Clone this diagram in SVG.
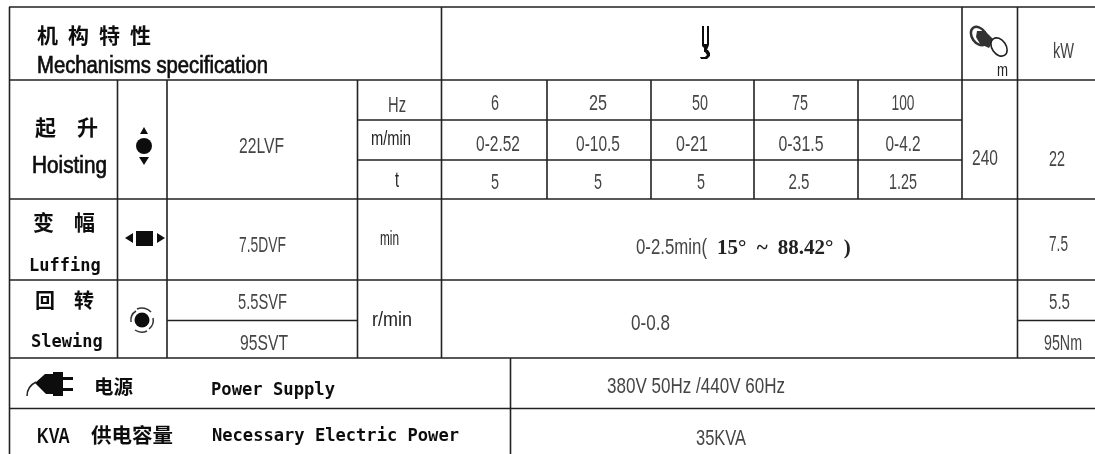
<svg xmlns="http://www.w3.org/2000/svg" width="1095" height="454" viewBox="0 0 1095 454">
<defs>
<filter id="soft" x="-10%" y="-30%" width="120%" height="160%"><feGaussianBlur stdDeviation="0.5"/></filter>
</defs>
<style>
.l{stroke:#222;stroke-width:1.6;fill:none}
text{fill:#444;font-family:"Liberation Sans",sans-serif;font-size:22px}
.t{filter:url(#soft)}
.b{fill:#111;font-family:"DejaVu Sans Mono",monospace;font-weight:bold;font-size:17px}
.h{fill:#111;stroke:#111;stroke-width:.7;font-family:"Liberation Sans",sans-serif;font-size:23px}
.c{fill:#111;font-family:"Noto Sans CJK SC","Liberation Sans",sans-serif;font-weight:bold;font-size:21px}
.u{fill:#222;font-size:20px}
.i{fill:#111}
</style>
<rect width="1095" height="454" fill="#fff"/>
<g id="grid" class="l">
<path d="M9.5 7V454M117.5 80V358M167 80V358M357.5 80V358M441.5 7V358M547 80V199M651 80V199M754 80V199M858 80V199M962 7V199M1017.5 7V358M510.5 358V454"/>
<path d="M9 7H1095M9 80H1095M357 120H962M357 160H962M9 199H1095M9 280H1095M9 358H1095M9 408.5H1095M167 320.5H357M1017 320.5H1095"/>
</g>
<g id="header" class="t">
<text class="c" x="37 57 68 88 99 119 130" y="43">机 构 特 性</text>
<text class="h" x="37" y="73" textLength="231" lengthAdjust="spacingAndGlyphs">Mechanisms specification</text>
<path id="hook" class="i" d="M702 26h2v18h3V26h2v19l-2 5h1l2 3v3l-3 3h-6l-1-2h5l2-2-2-3h-1v-4l-2-2z"/>
<g id="drum">
<ellipse cx="979" cy="36" rx="7" ry="10" transform="rotate(-35 979 36)" fill="none" stroke="#333" stroke-width="2.5"/>
<path d="M977 31l8 0 9 9-5 8-9-4-4-7z" fill="#333"/>
<ellipse cx="999" cy="47" rx="7" ry="10" transform="rotate(-35 999 47)" fill="#fff" stroke="#222" stroke-width="1.6"/>
</g>
<text x="997" y="76" textLength="11" lengthAdjust="spacingAndGlyphs" style="fill:#222;font-size:18px">m</text>
<text x="1053" y="58" textLength="21" lengthAdjust="spacingAndGlyphs">kW</text>
</g>
<g id="hoisting" class="t">
<text class="c" x="35 56 77" y="135">起 升</text>
<text class="h" x="32" y="173" textLength="75" lengthAdjust="spacingAndGlyphs">Hoisting</text>
<path class="i" d="M144 127l4 7h-8zM144 165l-5-8h10z"/><circle class="i" cx="144" cy="146" r="8"/>
<text x="239" y="153" textLength="45" lengthAdjust="spacingAndGlyphs">22LVF</text>
<text x="388" y="112" textLength="18" lengthAdjust="spacingAndGlyphs">Hz</text>
<text class="u" x="371" y="145" textLength="40" lengthAdjust="spacingAndGlyphs">m/min</text>
<text x="395" y="187" textLength="4" lengthAdjust="spacingAndGlyphs" style="fill:#222">t</text>
<g text-anchor="middle">
<text x="495" y="110" textLength="8" lengthAdjust="spacingAndGlyphs">6</text><text x="598" y="110" textLength="18" lengthAdjust="spacingAndGlyphs">25</text><text x="700" y="110" textLength="16" lengthAdjust="spacingAndGlyphs">50</text><text x="800" y="110" textLength="16" lengthAdjust="spacingAndGlyphs">75</text><text x="903" y="110" textLength="23" lengthAdjust="spacingAndGlyphs">100</text>
<text x="498" y="151" textLength="44" lengthAdjust="spacingAndGlyphs">0-2.52</text><text x="598" y="151" textLength="44" lengthAdjust="spacingAndGlyphs">0-10.5</text><text x="692" y="151" textLength="32" lengthAdjust="spacingAndGlyphs">0-21</text><text x="801" y="151" textLength="45" lengthAdjust="spacingAndGlyphs">0-31.5</text><text x="903" y="151" textLength="35" lengthAdjust="spacingAndGlyphs">0-4.2</text>
<text x="495" y="189" textLength="8" lengthAdjust="spacingAndGlyphs">5</text><text x="598" y="189" textLength="8" lengthAdjust="spacingAndGlyphs">5</text><text x="701" y="189" textLength="8" lengthAdjust="spacingAndGlyphs">5</text><text x="799" y="189" textLength="21" lengthAdjust="spacingAndGlyphs">2.5</text><text x="903" y="189" textLength="28" lengthAdjust="spacingAndGlyphs">1.25</text>
<text x="985" y="165" textLength="26" lengthAdjust="spacingAndGlyphs">240</text>
<text x="1057" y="166" textLength="16" lengthAdjust="spacingAndGlyphs">22</text>
</g>
</g>
<g id="luffing" class="t">
<text class="c" x="33 53 74" y="230">变 幅</text>
<text class="b" x="29" y="271">Luffing</text>
<path class="i" d="M125 238l8-5v10zM165 238l-8-5v10z"/><rect class="i" x="136" y="231" width="17" height="15"/>
<text x="239" y="252" textLength="47" lengthAdjust="spacingAndGlyphs">7.5DVF</text>
<text class="u" x="380" y="245" textLength="19" lengthAdjust="spacingAndGlyphs">min</text>
<text x="636" y="254" textLength="71" lengthAdjust="spacingAndGlyphs">0-2.5min(</text>
<text x="717" y="254" style="fill:#222;font-family:'Liberation Serif',serif;font-weight:bold;font-size:21px;word-spacing:5px">15° ~ 88.42° )</text>
<text x="1049" y="251" textLength="19" lengthAdjust="spacingAndGlyphs">7.5</text>
</g>
<g id="slewing" class="t">
<text class="c" x="35 54 74" y="308" style="font-size:20px">回 转</text>
<text class="b" x="31" y="347">Slewing</text>
<circle class="i" cx="142" cy="320" r="7.5"/>
<path d="M131 322a11 11 0 0 1 5-11M137 309a12 12 0 0 1 14 3M153 318a11 11 0 0 1-4 11M147 331a12 12 0 0 1-12-1" fill="none" stroke="#333" stroke-width="1.5"/>
<text x="238" y="309" textLength="49" lengthAdjust="spacingAndGlyphs">5.5SVF</text>
<text x="240" y="350" textLength="48" lengthAdjust="spacingAndGlyphs">95SVT</text>
<text class="u" x="372" y="326" textLength="40" lengthAdjust="spacingAndGlyphs">r/min</text>
<text x="631" y="330" textLength="39" lengthAdjust="spacingAndGlyphs">0-0.8</text>
<text x="1049" y="309" textLength="21" lengthAdjust="spacingAndGlyphs">5.5</text>
<text x="1044" y="350" textLength="38" lengthAdjust="spacingAndGlyphs">95Nm</text>
</g>
<g id="power" class="t">
<path class="i" d="M35 383l10-9h8v-2h10v5h10v3H63v8h10v3H63v5H53v-2h-7z"/>
<path d="M36 382c-6 3-9 7-9 14" fill="none" stroke="#222" stroke-width="1.5"/>
<text class="c" x="94" y="394" style="font-size:19.5px">电源</text>
<text class="b" x="211" y="395" textLength="124" lengthAdjust="spacingAndGlyphs">Power Supply</text>
<text x="607" y="393" textLength="178" lengthAdjust="spacingAndGlyphs">380V 50Hz /440V 60Hz</text>
</g>
<g id="kva" class="t">
<text x="37" y="443" textLength="33" lengthAdjust="spacingAndGlyphs" style="fill:#111;font-weight:bold;font-size:22px">KVA</text>
<text class="c" x="91" y="443" style="font-size:20.5px">供电容量</text>
<text class="b" x="212" y="441" textLength="247" lengthAdjust="spacingAndGlyphs">Necessary Electric Power</text>
<text x="696" y="445" textLength="50" lengthAdjust="spacingAndGlyphs">35KVA</text>
</g>
</svg>
